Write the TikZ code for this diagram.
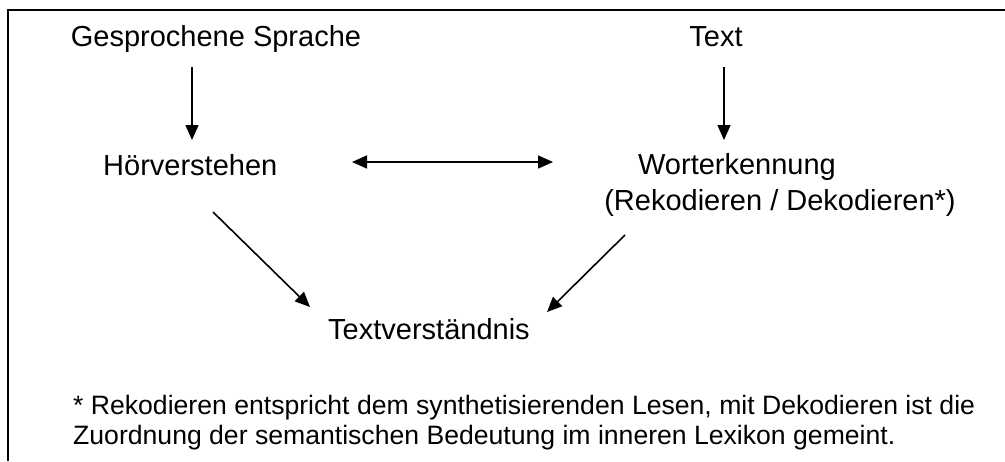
\documentclass[tikz,border=0pt]{standalone}
\usepackage{fontspec}
\setmainfont{Liberation Sans}
\usetikzlibrary{arrows.meta}
\begin{document}
\begin{tikzpicture}[x=1pt,y=-1pt,
  lbl/.style={inner sep=0pt,font=\fontsize{29}{34}\selectfont},
  foot/.style={inner sep=0pt,font=\fontsize{26.6}{30}\selectfont},
  arr/.style={line width=1.6pt,-{Triangle[length=15pt,width=13pt]}},
  darr/.style={line width=1.6pt,{Triangle[length=15pt,width=13pt]}-{Triangle[length=15pt,width=13pt]}},
  frame/.style={line width=2pt}]
\useasboundingbox (0,0) rectangle (1005,461);
\fill[white] (0,0) rectangle (1005,461);
\draw[frame] (8,461) -- (8,9.5) -- (1005,9.5);
\node[lbl,anchor=base] (gs) at (216,46) {Gesprochene Sprache};
\node[lbl,anchor=base] (tx) at (716,46) {Text};
\node[lbl,anchor=base west] (hv) at (103,175) {Hörverstehen};
\node[lbl,anchor=base] (we) at (737,174) {Worterkennung};
\node[lbl,anchor=base] (rd) at (780,210) {(Rekodieren / Dekodieren*)};
\node[lbl,anchor=base west] (tv) at (328,339) {Textverständnis};
\node[foot,anchor=base west] (f1) at (73,414) {* Rekodieren entspricht dem synthetisierenden Lesen, mit Dekodieren ist die};
\node[foot,anchor=base west] (f2) at (73,444) {Zuordnung der semantischen Bedeutung im inneren Lexikon gemeint.};
\coordinate (a1s) at (192,67); \coordinate (a1e) at (192,140);
\coordinate (a2s) at (724,67); \coordinate (a2e) at (724,140);
\coordinate (ds) at (352,162); \coordinate (de) at (553,162);
\coordinate (ls) at (213,212); \coordinate (le) at (310,307);
\coordinate (rs) at (625,235); \coordinate (re) at (547,312);
\draw[arr] (a1s) -- (a1e);
\draw[arr] (a2s) -- (a2e);
\draw[darr] (ds) -- (de);
\draw[arr] (ls) -- (le);
\draw[arr] (rs) -- (re);
\end{tikzpicture}
\end{document}
